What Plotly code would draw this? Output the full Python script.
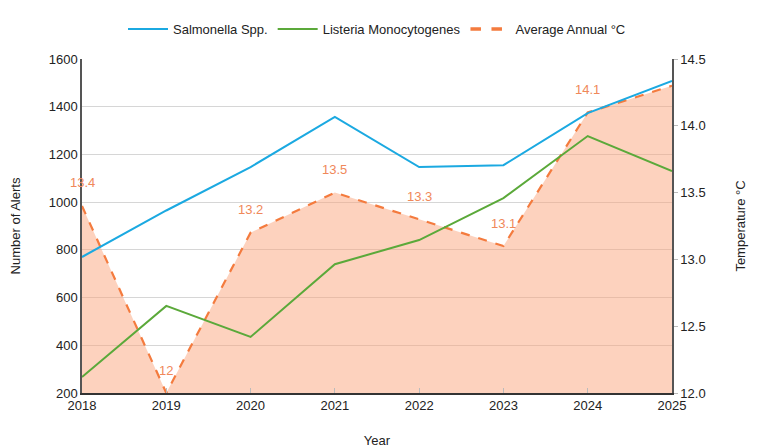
import plotly.graph_objects as go

years = [2018, 2019, 2020, 2021, 2022, 2023, 2024, 2025]
salmonella = [770, 965, 1147, 1357, 1147, 1155, 1373, 1508]
listeria = [267, 565, 435, 740, 841, 1017, 1277, 1130]
temperature = [13.4, 12.0, 13.2, 13.5, 13.3, 13.1, 14.1, 14.3]
temp_labels = ["13.4", "12", "13.2", "13.5", "13.3", "13.1", "14.1", ""]

FONT = "Liberation Sans, Arial, sans-serif"
ORANGE = "#F47B3E"

fig = go.Figure()
# temperature (base axis, drawn underneath)
fig.add_trace(go.Scatter(
    x=years, y=temperature, name="Average Annual °C", yaxis="y",
    mode="lines", line=dict(color=ORANGE, width=2.2, dash="dash"),
    fill="tozeroy", fillcolor="rgba(250,160,120,0.48)", showlegend=False,
))
fig.add_trace(go.Scatter(
    x=years, y=salmonella, name="Salmonella Spp.", mode="lines", yaxis="y2",
    line=dict(color="#1BA9E1", width=2),
))
fig.add_trace(go.Scatter(
    x=years, y=listeria, name="Listeria Monocytogenes", mode="lines", yaxis="y2",
    line=dict(color="#5BA93A", width=2),
))
fig.add_trace(go.Scatter(
    x=[None], y=[None], name="Average Annual °C", mode="lines", yaxis="y2",
    line=dict(color=ORANGE, width=3.5, dash="dash"),
))

annotations = []
for x, y, t in zip(years, temperature, temp_labels):
    if t:
        annotations.append(dict(x=x, y=y, xref="x", yref="y", text=t,
                                showarrow=False, yshift=23,
                                font=dict(color="#F0885A", size=13, family=FONT)))

# page body adds ~8px offset, so figure is sized to the visible area
fig.update_layout(
    width=760, height=440,
    margin=dict(l=74, r=96, t=51, b=55, autoexpand=False),
    paper_bgcolor="white", plot_bgcolor="white",
    font=dict(family=FONT, size=12, color="#222"),
    legend=dict(orientation="h", x=0.5, xanchor="center", y=1.09, yanchor="middle",
                traceorder="normal", font=dict(size=13, color="#222"), itemwidth=40),
    xaxis=dict(range=[2018, 2025], tickvals=years, showgrid=False,
               showline=True, linecolor="#333", linewidth=1.5,
               ticks="inside", ticklen=5, tickcolor="#bbb", automargin=False,
               title=dict(text="Year", font=dict(size=13), standoff=26),
               tickfont=dict(size=13)),
    yaxis=dict(range=[12.0, 14.5], dtick=0.5, tickformat=".1f", side="right",
               showgrid=False, showline=True, linecolor="#555", linewidth=1.5, zeroline=False,
               ticks="outside", ticklen=4, tickcolor="#bbb", automargin=False,
               title=dict(text="Temperature °C", font=dict(size=13), standoff=31),
               tickfont=dict(size=13)),
    yaxis2=dict(range=[200, 1600], dtick=200, overlaying="y", side="left",
                showgrid=True, gridcolor="#d6d6d6",
                showline=True, linecolor="#555", linewidth=1.5, zeroline=False,
                automargin=False,
                title=dict(text="Number of Alerts", font=dict(size=13), standoff=26),
                tickfont=dict(size=13)),
    annotations=annotations,
)
fig.write_html("out.html")
